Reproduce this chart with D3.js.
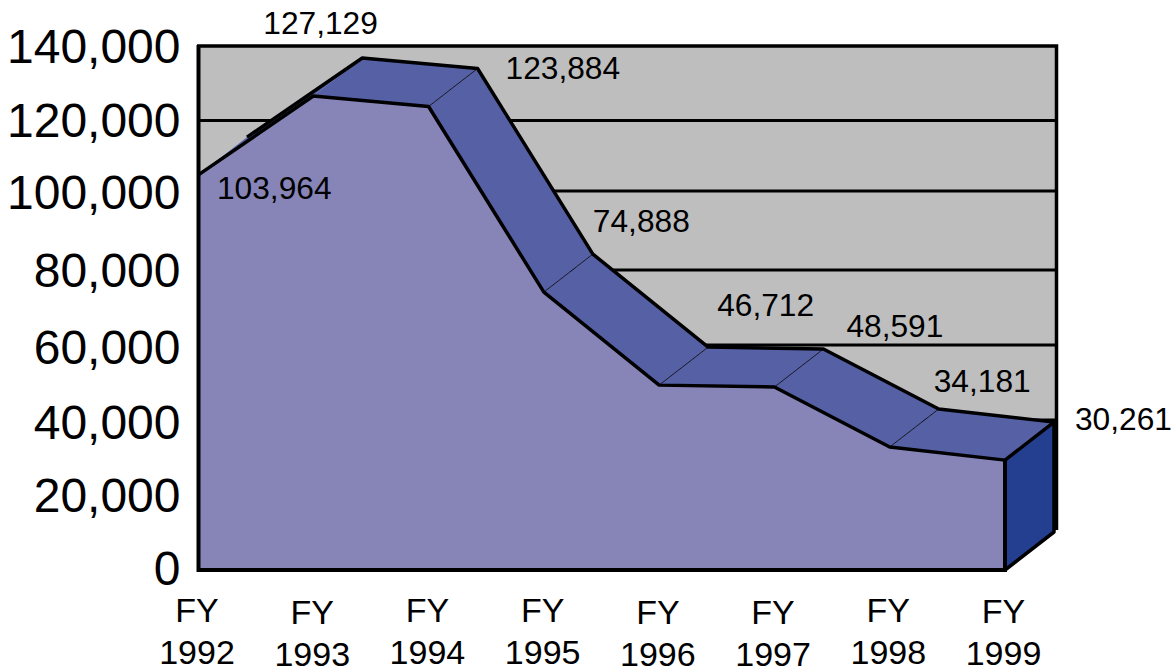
<!DOCTYPE html>
<html lang="en">
<head>
<meta charset="utf-8">
<!-- Load d3.js -->
<script src="https://d3js.org/d3.v7.min.js"></script>
<style>
body { margin: 0; background: #fff; }
svg { display: block; }
text { font-family: "Liberation Sans", Arial, sans-serif; fill: #000; }
</style>
</head>
<body>
<div id="my_dataviz"></div>
<script>
// data
var years = ["1992", "1993", "1994", "1995", "1996", "1997", "1998", "1999"];
// the numbers printed on the chart
var printedValues = ["103,964", "127,129", "123,884", "74,888", "46,712", "48,591", "34,181", "30,261"];
// heights as actually drawn, they do not quite agree with the printed numbers
var plottedValues = [105300, 126400, 123600, 74100, 49300, 48800, 32800, 29300];
var tickLabels = ["140,000", "120,000", "100,000", "80,000", "60,000", "40,000", "20,000", "0"];
var tickHeights = [139500, 119800, 100600, 79600, 59300, 39100, 19700, 300];
var gridHeights = [119900, 101100, 80000, 60000, 40000, 20000];

var width = 1174, height = 668;
var depth = { x: 49, y: -38 };

var svg = d3.select("#my_dataviz")
    .append("svg")
    .attr("width", width)
    .attr("height", height);

var x = d3.scalePoint().domain(years).range([198, 1005]);
var xLabels = d3.scalePoint().domain(years).range([196.5, 1003]);
var y = d3.scaleLinear().domain([0, 140000]).range([570, 45]);

var points = years.map(function(d, i) {
    return { year: d, value: plottedValues[i], x: x(d), y: y(plottedValues[i]) };
});

// back wall
svg.append("rect")
    .attr("x", 197).attr("y", y(140000) + 1)
    .attr("width", 859).attr("height", 484)
    .attr("fill", "#bebebe");

svg.selectAll(".grid")
    .data(gridHeights)
    .enter().append("line")
    .attr("x1", 197).attr("x2", 1056)
    .attr("y1", function(d) { return y(d); })
    .attr("y2", function(d) { return y(d); })
    .attr("stroke", "#000").attr("stroke-width", 3);

// wall border top, right
svg.append("path")
    .attr("d", "M197," + (y(140000) + 1) + "H1056.5V530")
    .attr("fill", "none").attr("stroke", "#000").attr("stroke-width", 3.5);

// top ribbon, one face per segment
var faces = d3.pairs(points);
svg.selectAll(".face")
    .data(faces)
    .enter().append("path")
    .attr("d", function(d) {
        return "M" + d[0].x + "," + d[0].y + "L" + d[1].x + "," + d[1].y +
            "L" + (d[1].x + depth.x) + "," + (d[1].y + depth.y) +
            "L" + (d[0].x + depth.x) + "," + (d[0].y + depth.y) + "Z";
    })
    .attr("fill", "#5560a5");

// thin seams between the faces
svg.selectAll(".seam")
    .data(points.slice(2, 7))
    .enter().append("line")
    .attr("x1", function(d) { return d.x; })
    .attr("y1", function(d) { return d.y; })
    .attr("x2", function(d) { return d.x + depth.x; })
    .attr("y2", function(d) { return d.y + depth.y; })
    .attr("stroke", "#000").attr("stroke-width", 0.8);

var backLine = d3.line()
    .x(function(d) { return d.x + depth.x; })
    .y(function(d) { return d.y + depth.y; });

svg.append("path")
    .attr("d", backLine(points))
    .attr("fill", "none").attr("stroke", "#000")
    .attr("stroke-width", 3.5).attr("stroke-linejoin", "round");

// dark end face on the right
var last = points[points.length - 1];
svg.append("path")
    .attr("d", "M" + last.x + "," + last.y +
        "L" + (last.x + depth.x) + "," + (last.y + depth.y) +
        "L" + (last.x + depth.x) + "," + (y(0) + depth.y) +
        "L" + last.x + "," + y(0) + "Z")
    .attr("fill", "#243f8f").attr("stroke", "#000")
    .attr("stroke-width", 3.5).attr("stroke-linejoin", "round");

// front area
var area = d3.area()
    .x(function(d) { return d.x; })
    .y0(y(0))
    .y1(function(d) { return d.y; });

svg.append("path")
    .attr("d", area(points))
    .attr("fill", "#8785b8");

var frontLine = d3.line()
    .x(function(d) { return d.x; })
    .y(function(d) { return d.y; });

svg.append("path")
    .attr("d", frontLine(points))
    .attr("fill", "none").attr("stroke", "#000")
    .attr("stroke-width", 3.5).attr("stroke-linejoin", "round");

svg.append("path")
    .attr("d", "M" + last.x + "," + last.y + "V" + y(0) + "H198.5V" + y(140000))
    .attr("fill", "none").attr("stroke", "#000")
    .attr("stroke-width", 4);

// y axis
var yAxis = svg.append("g")
    .attr("transform", "translate(180.5,0)")
    .call(d3.axisLeft(y)
        .tickValues(tickHeights)
        .tickSize(0)
        .tickPadding(0)
        .tickFormat(function(d, i) { return tickLabels[i]; }));
yAxis.select(".domain").remove();
yAxis.selectAll("text")
    .style("font-size", "48px")
    .style("font-family", "'Liberation Sans', Arial, sans-serif");

// x axis, two line labels
var xAxis = svg.append("g")
    .attr("transform", "translate(0,622)")
    .call(d3.axisBottom(xLabels).tickSize(0).tickFormat(""));
xAxis.select(".domain").remove();
xAxis.selectAll(".tick text").remove();

var labelDrop = [0, 2, 0, 0, 2, 2, 0, 1];
var xTicks = xAxis.selectAll(".tick").append("text")
    .attr("text-anchor", "middle")
    .attr("transform", function(d, i) { return "translate(0," + labelDrop[i] + ")"; })
    .style("font-size", "34px");
xTicks.append("tspan").attr("x", 0).attr("y", 0).text("FY");
xTicks.append("tspan").attr("x", 0).attr("y", 41.5).text(function(d) { return d; });

// value labels, placed by hand like the original
var labelOffsets = [[19, 24], [-50, -62], [77, -28], [49, -60], [58, -69], [72, -50], [44, -55], [70, -30]];
svg.selectAll(".value-label")
    .data(points)
    .enter().append("text")
    .attr("class", "value-label")
    .attr("x", function(d, i) { return d.x + labelOffsets[i][0]; })
    .attr("y", function(d, i) { return d.y + labelOffsets[i][1]; })
    .style("font-size", "31.7px")
    .text(function(d, i) { return printedValues[i]; });
</script>
</body>
</html>
